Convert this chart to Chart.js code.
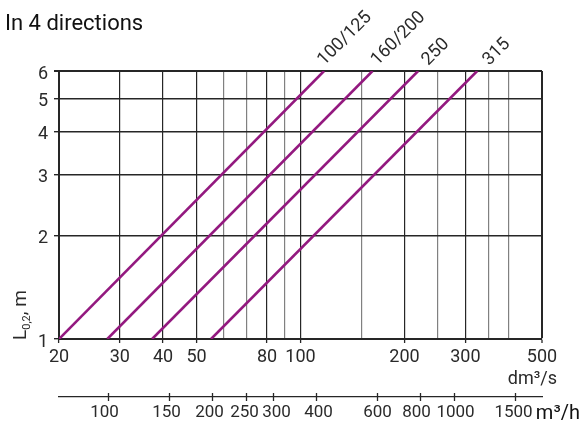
<!DOCTYPE html>
<html>
<head>
<meta charset="utf-8">
<script src="https://cdn.jsdelivr.net/npm/chart.js@4.4.1/dist/chart.umd.min.js"></script>
<style>
  html, body { margin: 0; padding: 0; background: #fff; }
  canvas { display: block; }
</style>
</head>
<body>
<canvas id="chart" width="588" height="422"></canvas>
<script>
// Throw length L0,2 against airflow for four outlet sizes (log-log)
const sizes = ['100/125', '160/200', '250', '315'];
const throwEnds = [1, 6];                        // m, where each line meets the frame
const flowAtStart = [20, 27.6, 37.2, 55.1];      // dm³/s at L0,2 = 1 m
const flowAtEnd = [117, 161.6, 219, 324.6];      // dm³/s at L0,2 = 6 m

const flowLabels = [20, 30, 40, 50, 80, 100, 200, 300, 500];
const flowGrid = [20, 30, 40, 50, 60, 70, 80, 90, 100, 150, 200, 250, 300, 350, 400, 500];
const throwLabels = [1, 2, 3, 4, 5, 6];
const hourLabels = [100, 150, 200, 250, 300, 400, 600, 800, 1000, 1500];
const DM3S_TO_M3H = 3.6;

const FONT = 'Roboto, "Noto Sans", sans-serif';
const INK = '#2a2a2a';
const DARK = '#262626';
const LIGHT = '#808080';
const PURPLE = '#93197f';

// nudges for the rotated size labels, relative to each line's top end
const labelNudge = [0, 5, 10, 12];
// small sideways nudges so the crowded m³/h numbers stay apart
const hourNudge = [-4, -3, -3, -2, 3, 2, 0, -4, 1, -2];

const datasets = sizes.map((name, i) => ({
  label: name,
  data: [
    { x: flowAtStart[i], y: throwEnds[0] },
    { x: flowAtEnd[i], y: throwEnds[1] }
  ],
  showLine: true,
  borderColor: PURPLE,
  borderWidth: 2.6,
  pointRadius: 0,
  fill: false,
  xAxisID: 'x',
  yAxisID: 'y'
}));

const decorations = {
  id: 'decorations',
  afterDraw(chart) {
    const ctx = chart.ctx;
    const xs = chart.scales.x, ys = chart.scales.y, x2 = chart.scales.x2;
    ctx.save();

    // heading
    ctx.fillStyle = '#111';
    ctx.font = '22px ' + FONT;
    ctx.textAlign = 'left';
    ctx.textBaseline = 'alphabetic';
    ctx.fillText('In 4 directions', 5, 30);

    // y axis title with subscript
    ctx.save();
    ctx.translate(26, 340);
    ctx.rotate(-Math.PI / 2);
    ctx.fillStyle = INK;
    ctx.font = '19px ' + FONT;
    ctx.fillText('L', 0, 0);
    let w = ctx.measureText('L').width;
    ctx.font = '11px ' + FONT;
    ctx.fillText('0,2', w, 4);
    w += ctx.measureText('0,2').width;
    ctx.font = '19px ' + FONT;
    ctx.fillText(', m', w, 0);
    ctx.restore();

    // unit captions
    ctx.fillStyle = INK;
    ctx.font = '18px ' + FONT;
    ctx.textAlign = 'right';
    ctx.fillText('dm³/s', 557, 384);
    ctx.fillStyle = '#111';
    ctx.font = '20px ' + FONT;
    ctx.fillText('m³/h', 580, 419);

    // crossing tick marks and numbers on the m³/h axis
    const ay = x2.top;
    ctx.strokeStyle = DARK;
    ctx.lineWidth = 1.3;
    ctx.fillStyle = INK;
    ctx.font = '17px ' + FONT;
    ctx.textAlign = 'center';
    ctx.textBaseline = 'middle';
    hourLabels.forEach((v, i) => {
      const px = Math.round(x2.getPixelForValue(v)) + 0.5;
      ctx.beginPath();
      ctx.moveTo(px, ay - 4);
      ctx.lineTo(px, ay + 4);
      ctx.stroke();
      ctx.fillText(String(v), px + hourNudge[i], ay + 16);
    });

    // rotated size labels at the top end of each line
    ctx.fillStyle = INK;
    ctx.font = '18px ' + FONT;
    ctx.textAlign = 'left';
    ctx.textBaseline = 'alphabetic';
    sizes.forEach((name, i) => {
      const px = xs.getPixelForValue(flowAtEnd[i]) + labelNudge[i];
      const py = ys.getPixelForValue(throwEnds[1]) - 5;
      ctx.save();
      ctx.translate(px, py);
      ctx.rotate(-Math.PI / 4);
      ctx.fillText(name, 0, 0);
      ctx.restore();
    });

    ctx.restore();
  }
};

new Chart(document.getElementById('chart'), {
  type: 'scatter',
  data: { datasets },
  plugins: [decorations],
  options: {
    responsive: false,
    animation: false,
    devicePixelRatio: 1,
    layout: { padding: { top: 71, right: 46, left: 0, bottom: 0 } },
    plugins: { legend: { display: false }, tooltip: { enabled: false } },
    scales: {
      x: {
        type: 'logarithmic',
        position: 'bottom',
        weight: 0,
        min: 20,
        max: 500,
        afterBuildTicks: s => { s.ticks = flowGrid.map(v => ({ value: v })); },
        afterFit: s => { s.height = 58; },
        grid: {
          drawTicks: true,
          tickLength: 4,
          color: c => flowLabels.includes(c.tick.value) ? DARK : LIGHT,
          lineWidth: c => c.tick.value === 500 ? 2 : 1.2,
          tickColor: c => flowLabels.includes(c.tick.value) ? DARK : 'rgba(0,0,0,0)',
          tickWidth: 1.3
        },
        border: { color: DARK, width: 2 },
        ticks: {
          autoSkip: false,
          maxRotation: 0,
          padding: 4,
          color: INK,
          font: { family: FONT, size: 18 },
          callback: v => flowLabels.includes(v) ? String(v) : ''
        }
      },
      x2: {
        type: 'logarithmic',
        axis: 'x',
        position: 'bottom',
        weight: 1,
        min: 20 * DM3S_TO_M3H,
        max: 500 * DM3S_TO_M3H,
        afterBuildTicks: s => { s.ticks = hourLabels.map(v => ({ value: v })); },
        afterFit: s => { s.height = 25; },
        grid: { display: false, drawTicks: false, drawOnChartArea: false },
        border: { color: DARK, width: 1.3 },
        ticks: { display: false }
      },
      y: {
        type: 'logarithmic',
        min: 1,
        max: 6,
        afterBuildTicks: s => { s.ticks = throwLabels.map(v => ({ value: v })); },
        afterFit: s => { s.width = 59; },
        grid: {
          color: DARK,
          lineWidth: c => c.tick.value === 6 ? 2 : 1.4,
          tickLength: 5,
          tickColor: DARK
        },
        border: { color: DARK, width: 2 },
        ticks: {
          autoSkip: false,
          padding: 6,
          labelOffset: 3,
          color: INK,
          font: { family: FONT, size: 18 },
          callback: v => String(v)
        }
      }
    }
  }
});
</script>
</body>
</html>
